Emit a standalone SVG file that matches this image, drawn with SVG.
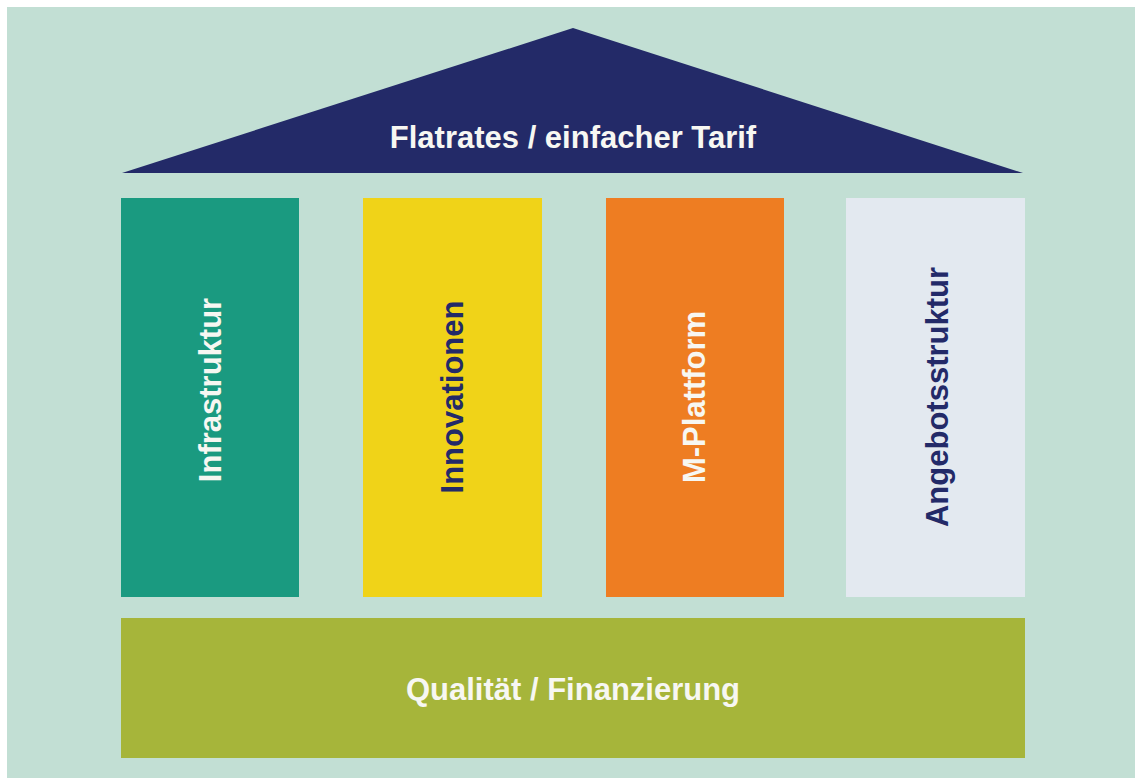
<svg xmlns="http://www.w3.org/2000/svg" width="1135" height="778" viewBox="0 0 1135 778">
<style>
.t{font-family:"Liberation Sans",Arial,sans-serif;font-weight:bold;text-anchor:middle;dominant-baseline:central;font-size:31px}
.w{fill:#f7f7f2}
.n{fill:#232a68}
</style>
<rect x="0" y="0" width="1135" height="778" fill="#ffffff"/>
<rect x="7" y="7" width="1128" height="771" fill="#c2dfd4"/>
<g id="roof">
<polygon points="573,28 122,173 1023,173" fill="#232a68"/>
<text class="t w" x="573" y="137">Flatrates / einfacher Tarif</text>
</g>
<g id="pillar1">
<rect x="121" y="198" width="178" height="399" fill="#1a9a80"/>
<text class="t w" transform="translate(210,390) rotate(-90)">Infrastruktur</text>
</g>
<g id="pillar2">
<rect x="363" y="198" width="179" height="399" fill="#f0d318"/>
<text class="t n" transform="translate(452,397) rotate(-90)">Innovationen</text>
</g>
<g id="pillar3">
<rect x="606" y="198" width="178" height="399" fill="#ee7d22"/>
<text class="t w" transform="translate(694,397) rotate(-90)">M-Plattform</text>
</g>
<g id="pillar4">
<rect x="846" y="198" width="179" height="399" fill="#e3e9f0"/>
<text class="t n" transform="translate(937,397) rotate(-90)">Angebotsstruktur</text>
</g>
<g id="base">
<rect x="121" y="618" width="904" height="140" fill="#a6b53a"/>
<text class="t w" x="573" y="689">Qualität / Finanzierung</text>
</g>
<g id="connectors"></g>
</svg>
